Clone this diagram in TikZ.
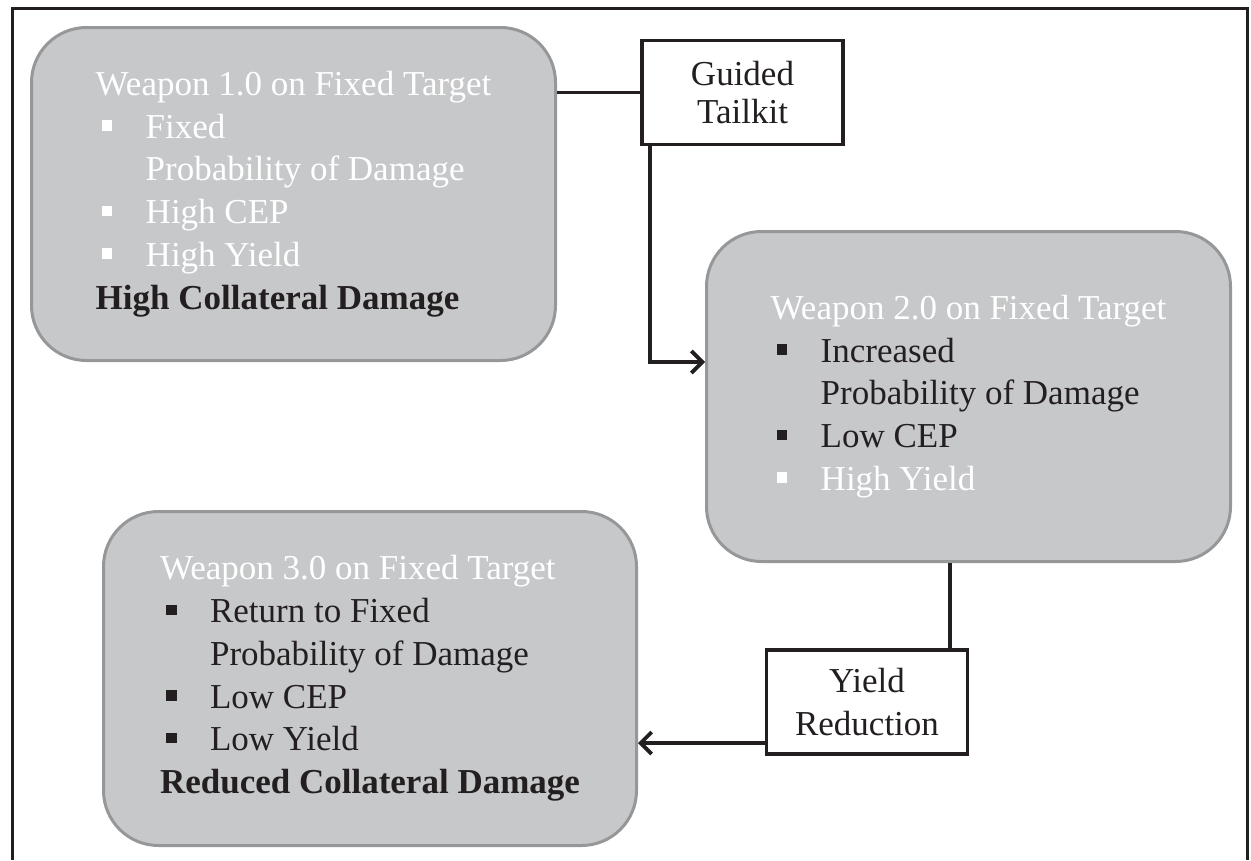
\documentclass[tikz,border=0pt]{standalone}
\usepackage{fontspec}
\setmainfont{Liberation Serif}
\usetikzlibrary{arrows.meta,calc,positioning}
\definecolor{boxgray}{RGB}{199,200,202}
\definecolor{edgegray}{RGB}{150,151,153}
\definecolor{inkblack}{RGB}{35,31,32}
\newcommand{\sqbul}[1]{\hspace*{6pt}{\color{#1}\rule[7.5pt]{10.5pt}{10.5pt}}\hspace*{33.5pt}}
\newcommand{\contline}{\hspace*{50pt}}
\tikzset{
  stagebox/.style={draw=edgegray, fill=boxgray, line width=3pt, rounded corners=55pt, align=left, minimum width=524pt, minimum height=330pt, inner sep=0pt, text=white, font=\fontsize{35}{42.8}\selectfont},
  stepbox/.style={draw=inkblack, fill=white, line width=3.8pt, align=center, minimum width=201pt, minimum height=104pt, inner sep=0pt, text=inkblack, font=\fontsize{35}{42.6}\selectfont},
  link/.style={draw=inkblack, line width=3.8pt},
  arrow/.style={link, -{Straight Barb[length=11pt,width=22pt]}}
}

\begin{document}
\begin{tikzpicture}[x=1pt, y=-1pt]
  \useasboundingbox (0,0) rectangle (1251,860);
  % outer frame, open at the bottom
  \draw[inkblack, line width=3pt] (12,860) -- (12,8.5) -- (1247.5,8.5) -- (1247.5,860);

  \node[stagebox, minimum height=333pt] (w1) at (293.5,194) {Weapon 1.0 on Fixed Target\\
    \sqbul{white}Fixed\\
    \contline Probability of Damage\\
    \sqbul{white}High CEP\\
    \sqbul{white}High Yield\\
    {\bfseries\color{inkblack}High Collateral Damage}};
  \node[stagebox] (w2) at (968.5,396.5) {Weapon 2.0 on Fixed Target\\
    \sqbul{inkblack}{\color{inkblack}Increased}\\
    \contline{\color{inkblack}Probability of Damage}\\
    \sqbul{inkblack}{\color{inkblack}Low CEP}\\
    \sqbul{white}High Yield};
  \node[stagebox, minimum width=533pt, minimum height=334pt] (w3) at (370,678.5) {Weapon 3.0 on Fixed Target\\
    \sqbul{inkblack}{\color{inkblack}Return to Fixed}\\
    \contline{\color{inkblack}Probability of Damage}\\
    \sqbul{inkblack}{\color{inkblack}Low CEP}\\
    \sqbul{inkblack}{\color{inkblack}Low Yield}\\
    {\bfseries\color{inkblack}Reduced Collateral Damage}};

  \node[stepbox, font=\fontsize{35}{38}\selectfont] (guided) at (742.5,92.5) {Guided\\Tailkit};
  \node[stepbox] (yield) at (867,702) {Yield\\Reduction};

  \draw[link] (w1.east |- guided.west) -- (guided.west);
  \draw[arrow] ([xshift=10pt]guided.south west) |- ([yshift=34.5pt]w2.west);
  \draw[link] ([xshift=-18.5pt]w2.south) -- ([xshift=-18.5pt]w2.south |- yield.north);
  \draw[arrow] ([yshift=-41pt]yield.west) -- ([yshift=-41pt]yield.west -| w3.east);
\end{tikzpicture}
\end{document}
